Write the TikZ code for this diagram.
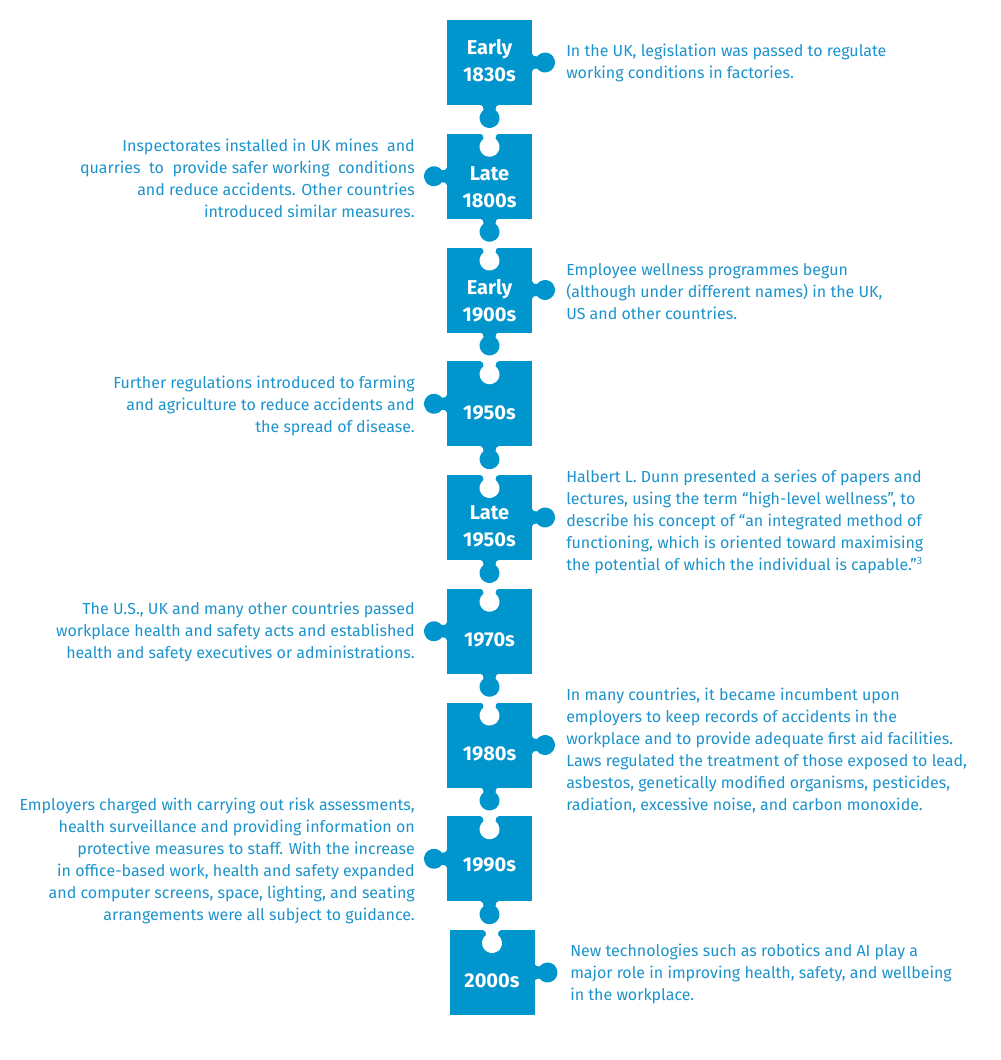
\documentclass[tikz,border=0pt]{standalone}
\usepackage{fontspec}
\setmainfont{Fira Sans}
\definecolor{pz}{HTML}{0096CD}
\definecolor{tx}{HTML}{1C93CC}
\tikzset{
  pics/tab/.style={code={\fill[#1] (-9,-1.5) -- (-9,0) .. controls (-6.5,0) and (-6,2.5) .. (-6,5)
      arc[start angle=233.13, end angle=-53.13, radius=10]
      .. controls (6,2.5) and (6.5,0) .. (9,0) -- (9,-1.5) -- cycle;}},
  desc/.style={text=tx, inner sep=0pt, font=\fontsize{12}{16.5}\selectfont},
  descR/.style={desc, anchor=west, align=left},
  descL/.style={desc, anchor=east, align=right},
  lab/.style={text=white, inner sep=0pt, align=center, font=\fontsize{15}{20}\selectfont\bfseries}
}
\newcommand\sq{\fill[pz] (0,0) rectangle (85,85);}
\begin{document}
\begin{tikzpicture}[x=0.75pt,y=-0.75pt]
\useasboundingbox (0,0) rectangle (1000,1060);
% piece 1
\begin{scope}[shift={(447,20)}]
\sq
\pic at (42.5,85) {tab=pz};
\pic[rotate=90] at (85,42.5) {tab=pz};
\end{scope}
% piece 2
\begin{scope}[shift={(447,133.75)}]
\sq
\pic at (42.5,0) {tab=white};
\pic at (42.5,85) {tab=pz};
\pic[rotate=-90] at (0,42.5) {tab=pz};
\end{scope}
% piece 3
\begin{scope}[shift={(447,247.5)}]
\sq
\pic at (42.5,0) {tab=white};
\pic at (42.5,85) {tab=pz};
\pic[rotate=90] at (85,42.5) {tab=pz};
\end{scope}
% piece 4
\begin{scope}[shift={(447,361.25)}]
\sq
\pic at (42.5,0) {tab=white};
\pic at (42.5,85) {tab=pz};
\pic[rotate=-90] at (0,42.5) {tab=pz};
\end{scope}
% piece 5
\begin{scope}[shift={(447,475)}]
\sq
\pic at (42.5,0) {tab=white};
\pic at (42.5,85) {tab=pz};
\pic[rotate=90] at (85,42.5) {tab=pz};
\end{scope}
% piece 6
\begin{scope}[shift={(447,588.75)}]
\sq
\pic at (42.5,0) {tab=white};
\pic at (42.5,85) {tab=pz};
\pic[rotate=-90] at (0,42.5) {tab=pz};
\end{scope}
% piece 7
\begin{scope}[shift={(447,702.5)}]
\sq
\pic at (42.5,0) {tab=white};
\pic at (42.5,85) {tab=pz};
\pic[rotate=90] at (85,42.5) {tab=pz};
\end{scope}
% piece 8
\begin{scope}[shift={(447,816.25)}]
\sq
\pic at (42.5,0) {tab=white};
\pic at (42.5,85) {tab=pz};
\pic[rotate=-90] at (0,42.5) {tab=pz};
\end{scope}
% piece 9
\begin{scope}[shift={(449.5,930)}]
\sq
\pic at (42.5,0) {tab=white};
\pic[rotate=90] at (85,42.5) {tab=pz};
\end{scope}
% labels
\node[lab] (l1) at (489.5,60.5) {Early\\1830s};
\node[lab] (l2) at (489.5,187.5) {Late\\1800s};
\node[lab] (l3) at (489.5,301) {Early\\1900s};
\node[lab] (l4) at (489.5,413) {1950s};
\node[lab] (l5) at (489.5,526.5) {Late\\1950s};
\node[lab] (l6) at (489.5,640) {1970s};
\node[lab] (l7) at (489.5,754) {1980s};
\node[lab] (l8) at (489.5,865) {1990s};
\node[lab] (l9) at (492,981) {2000s};
% descriptions
\node[descR] (d1) at (566,63) {In the UK, legislation was passed to regulate\\working conditions in factories.};
\node[descL] (d2) at (415,178) {Inspectorates installed in UK mines\ \ and\\quarries\ \ to\ \ provide safer working\ \ conditions\\and reduce accidents. Other countries\\introduced similar measures.};
\node[descR] (d3) at (566,292) {Employee wellness programmes begun\\(although under different names) in the UK,\\US and other countries.};
\node[descL] (d4) at (415,406) {Further regulations introduced to farming\\and agriculture to reduce accidents and\\the spread of disease.};
\node[descR] (d5) at (566,522) {Halbert L. Dunn presented a series of papers and\\lectures, using the term ``high-level wellness'', to\\describe his concept of ``an integrated method of\\functioning, which is oriented toward maximising\\the potential of which the individual is capable.''\textsuperscript{3}};
\node[descL] (d6) at (415,632) {The U.S., UK and many other countries passed\\workplace health and safety acts and established\\health and safety executives or administrations.};
\node[descR] (d7) at (566,751) {In many countries, it became incumbent upon\\employers to keep records of accidents in the\\workplace and to provide adequate first aid facilities.\\Laws regulated the treatment of those exposed to lead,\\asbestos, genetically modified organisms, pesticides,\\radiation, excessive noise, and carbon monoxide.};
\node[descL] (d8) at (415,861) {Employers charged with carrying out risk assessments,\\health surveillance and providing information on\\protective measures to staff. With the increase\\in office-based work, health and safety expanded\\and computer screens, space, lighting, and seating\\arrangements were all subject to guidance.};
\node[descR] (d9) at (570,974) {New technologies such as robotics and AI play a\\major role in improving health, safety, and wellbeing\\in the workplace.};
\end{tikzpicture}
\end{document}
